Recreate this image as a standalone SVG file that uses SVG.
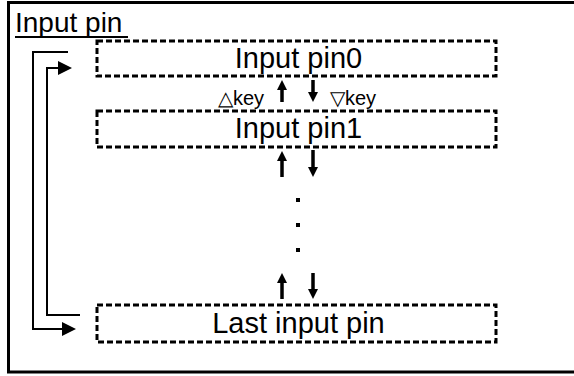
<svg xmlns="http://www.w3.org/2000/svg" width="574" height="376" viewBox="0 0 574 376">
<style>
.t{font-family:"Liberation Sans",Arial,sans-serif;fill:#000}
.big{font-size:29px;text-anchor:middle}
.key{font-size:20px}
.box{fill:#fff;stroke:#000;stroke-width:3;stroke-dasharray:6 3}
.con{fill:none;stroke:#000;stroke-width:2}
.sm{fill:none;stroke:#000;stroke-width:3.5}
</style>
<defs>
<marker id="bigArrow" markerUnits="userSpaceOnUse" viewBox="0 0 14 14" refX="4" refY="7" markerWidth="14" markerHeight="14" orient="auto">
<path d="M0,0 L14,7 L0,14 z" fill="#000"/>
</marker>
<marker id="smArrow" markerUnits="userSpaceOnUse" viewBox="0 0 10 11" refX="2" refY="5.5" markerWidth="10" markerHeight="11" orient="auto">
<path d="M0,0.5 L10,5.5 L0,10.5 z" fill="#000"/>
</marker>
</defs>
<rect x="0" y="0" width="574" height="376" fill="#fff"/>
<path d="M574,2.5 H8.5 V372 H574" fill="none" stroke="#000" stroke-width="3"/>
<g id="title">
<text class="t" x="15" y="32" font-size="28">Input pin</text>
<line x1="15" y1="37" x2="128" y2="37" stroke="#000" stroke-width="2"/>
</g>
<g id="pin0">
<rect class="box" x="97" y="41" width="399" height="35"/>
<text class="t big" x="298.5" y="68">Input pin0</text>
</g>
<g id="pin1">
<rect class="box" x="97" y="111" width="399" height="36"/>
<text class="t big" x="298.5" y="138">Input pin1</text>
</g>
<g id="lastpin">
<rect class="box" x="97" y="305" width="399" height="37"/>
<text class="t big" x="298.5" y="333">Last input pin</text>
</g>
<g id="labels">
<text class="t key" x="218" y="105">△key</text>
<text class="t key" x="330" y="105">▽key</text>
<rect x="296" y="198" width="4" height="4" fill="#000"/>
<rect x="296" y="223" width="4" height="4" fill="#000"/>
<rect x="296" y="248" width="4" height="4" fill="#000"/>
</g>
<g id="connectors">
<path class="con" d="M68,52 H33 V329 H66" marker-end="url(#bigArrow)"/>
<path class="con" d="M80,315 H47 V68 H62" marker-end="url(#bigArrow)"/>
<path class="sm" d="M282,102 V88" marker-end="url(#smArrow)"/>
<path class="sm" d="M313,80 V94" marker-end="url(#smArrow)"/>
<path class="sm" d="M282,177 V159" marker-end="url(#smArrow)"/>
<path class="sm" d="M313,150 V169" marker-end="url(#smArrow)"/>
<path class="sm" d="M282,299 V281" marker-end="url(#smArrow)"/>
<path class="sm" d="M313,273 V291" marker-end="url(#smArrow)"/>
</g>
</svg>
